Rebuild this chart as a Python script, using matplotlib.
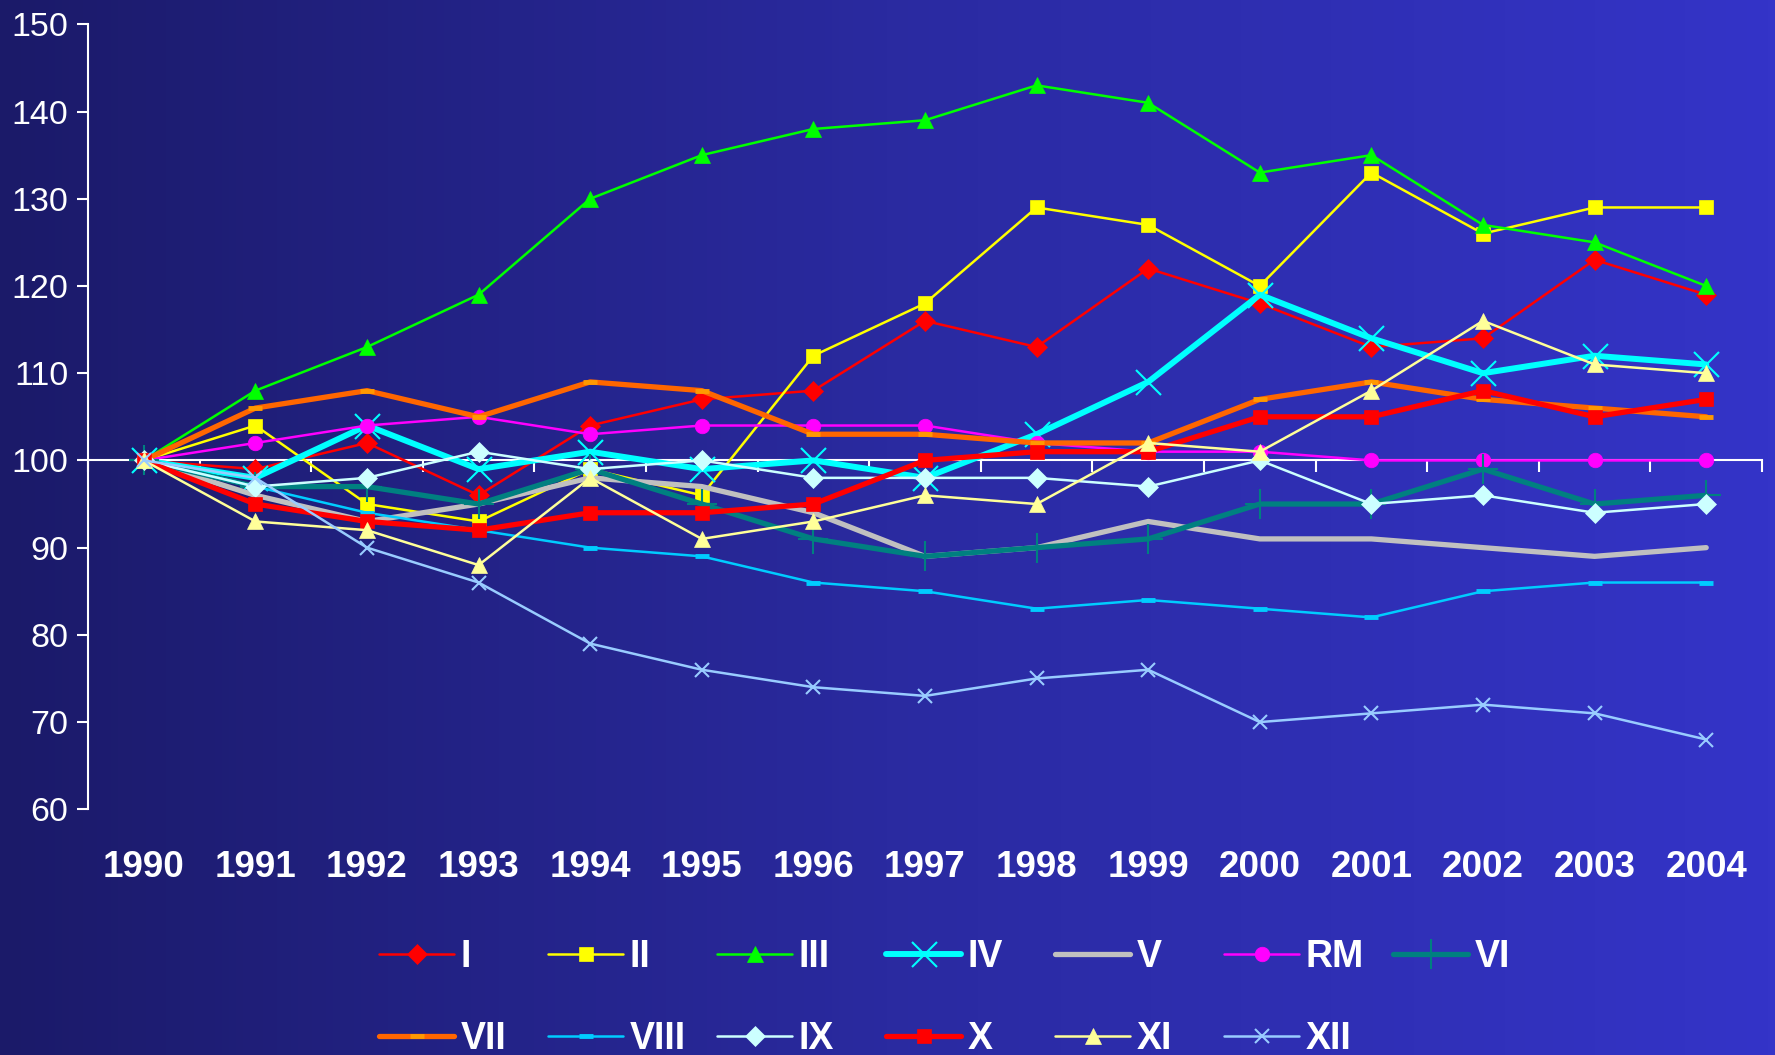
import numpy as np
import matplotlib
matplotlib.use("Agg")
import matplotlib.pyplot as plt
from matplotlib.colors import LinearSegmentedColormap

plt.rcParams['font.family'] = ['Liberation Sans', 'DejaVu Sans']

years = ['1990', '1991', '1992', '1993', '1994', '1995', '1996', '1997',
         '1998', '1999', '2000', '2001', '2002', '2003', '2004']

s_I = [100, 99, 102, 96, 104, 107, 108, 116, 113, 122, 118, 113, 114, 123, 119]
s_II = [100, 104, 95, 93, 99, 96, 112, 118, 129, 127, 120, 133, 126, 129, 129]
s_III = [100, 108, 113, 119, 130, 135, 138, 139, 143, 141, 133, 135, 127, 125, 120]
s_IV = [100, 98, 104, 99, 101, 99, 100, 98, 103, 109, 119, 114, 110, 112, 111]
s_V = [100, 96, 93, 95, 98, 97, 94, 89, 90, 93, 91, 91, 90, 89, 90]
s_RM = [100, 102, 104, 105, 103, 104, 104, 104, 102, 101, 101, 100, 100, 100, 100]
s_VI = [100, 97, 97, 95, 99, 95, 91, 89, 90, 91, 95, 95, 99, 95, 96]
s_VII = [100, 106, 108, 105, 109, 108, 103, 103, 102, 102, 107, 109, 107, 106, 105]
s_VIII = [100, 97, 94, 92, 90, 89, 86, 85, 83, 84, 83, 82, 85, 86, 86]
s_IX = [100, 97, 98, 101, 99, 100, 98, 98, 98, 97, 100, 95, 96, 94, 95]
s_X = [100, 95, 93, 92, 94, 94, 95, 100, 101, 101, 105, 105, 108, 105, 107]
s_XI = [100, 93, 92, 88, 98, 91, 93, 96, 95, 102, 101, 108, 116, 111, 110]
s_XII = [100, 98, 90, 86, 79, 76, 74, 73, 75, 76, 70, 71, 72, 71, 68]

yticks = [60, 70, 80, 90, 100, 110, 120, 130, 140, 150]

# name, values, line color, line width, marker, marker size, marker color, marker edge width
series = [
    ('I', s_I, '#FF0000', 1.8, 'D', 10.5, '#FF0000', 0.5),
    ('II', s_II, '#FFFF00', 1.8, 's', 10, '#FFFF00', 0.5),
    ('III', s_III, '#00FF00', 1.8, '^', 11.5, '#00FF00', 0.5),
    ('IV', s_IV, '#00FFFF', 4.3, 'x', 18, '#00FFFF', 1.5),
    ('V', s_V, '#C0C0C0', 3.8, None, 0, '#C0C0C0', 0),
    ('RM', s_RM, '#FF00FF', 1.8, 'o', 10.5, '#FF00FF', 0.5),
    ('VI', s_VI, '#008080', 3.8, '+', 21, '#008080', 1.5),
    ('VII', s_VII, '#FF6600', 3.8, '_', 9.5, '#FF9900', 3.5),
    ('VIII', s_VIII, '#00CCFF', 1.8, '_', 9.5, '#00CCFF', 3.5),
    ('IX', s_IX, '#CCFFFF', 1.8, 'D', 10, '#CCFFFF', 0.5),
    ('X', s_X, '#FF0000', 3.8, 's', 10.5, '#FF0000', 0.5),
    ('XI', s_XI, '#FFFF99', 1.8, '^', 11.5, '#FFFF99', 0.5),
    ('XII', s_XII, '#99CCFF', 1.8, 'x', 10.5, '#99CCFF', 1.5),
]

W, H = 1775, 1055
fig = plt.figure(figsize=(W / 100, H / 100), dpi=100)

# gradient background
bg = fig.add_axes([0, 0, 1, 1], zorder=-10)
cmap = LinearSegmentedColormap.from_list('bg', ['#1B1A69', '#2A2AA0', '#3434C8'])
grad = np.linspace(0, 1, 512)[None, :]
bg.imshow(grad, aspect='auto', cmap=cmap, extent=[0, 1, 0, 1])
bg.set_axis_off()

ax = fig.add_axes([88 / W, 1 - 809.3 / H, (1762 - 88) / W, (809.3 - 24.3) / H])
ax.set_facecolor('none')

x = np.arange(len(years))
handles = {}
for name, vals, col, lw, mk, ms, mcol, mew in series:
    ln, = ax.plot(x, vals, color=col, lw=lw, marker=mk, ms=ms,
                  markerfacecolor=mcol, markeredgecolor=mcol, markeredgewidth=mew,
                  solid_joinstyle='round', solid_capstyle='round', clip_on=False)
    handles[name] = ln

ax.set_xlim(-0.5, len(years) - 0.5)
ax.set_ylim(60, 150)
ax.set_yticks(yticks)
ax.set_yticklabels([str(v) for v in yticks])

for side in ['top', 'right']:
    ax.spines[side].set_visible(False)
ax.spines['left'].set_color('white')
ax.spines['left'].set_linewidth(1.5)
ax.spines['bottom'].set_position(('data', 100))
ax.spines['bottom'].set_color('white')
ax.spines['bottom'].set_linewidth(1.5)
ax.spines['bottom'].set_zorder(0.5)

ax.tick_params(axis='y', colors='white', length=8, width=1.5, direction='out',
               labelsize=24.5, pad=6)
ax.set_xticks(x)
ax.set_xticklabels([])
ax.tick_params(axis='x', which='major', length=0)
ax.set_xticks(np.arange(-0.5, len(years), 1.0), minor=True)
ax.tick_params(axis='x', which='minor', length=8.5, width=1.5, color='white',
               direction='out')

for i, yr in enumerate(years):
    ax.text(i, -0.0745, yr, transform=ax.get_xaxis_transform(), ha='center',
            va='center', color='white', fontsize=26.5, fontweight='bold')

# legend: two rows
row1 = ['I', 'II', 'III', 'IV', 'V', 'RM', 'VI']
row2 = ['VII', 'VIII', 'IX', 'X', 'XI', 'XII']
for r, (row, ypix) in enumerate([(row1, 957), (row2, 1039)]):
    for k, name in enumerate(row):
        xpix = 379 + 169 * k
        fig.legend(handles=[handles[name]], labels=[name], loc='center left',
                   bbox_to_anchor=(xpix / W, 1 - ypix / H), frameon=False,
                   borderpad=0, borderaxespad=0, handlelength=2.0,
                   handletextpad=0.18, labelcolor='white',
                   prop={'weight': 'bold', 'size': 27})

fig.savefig('out.png', dpi=100)
